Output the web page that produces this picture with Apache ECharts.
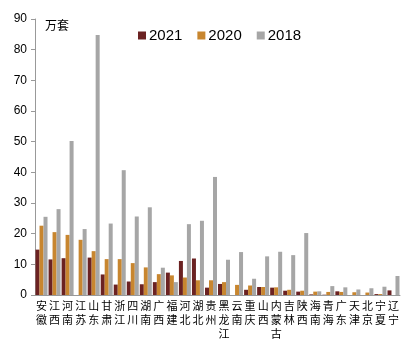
<!DOCTYPE html>
<html><head><meta charset="utf-8">
<script src="https://cdn.jsdelivr.net/npm/echarts@6/dist/echarts.min.js"></script>
<style>html,body{margin:0;padding:0;background:#fff}#c{width:412px;height:341px}</style>
</head><body><div id="c"></div>
<script>
const categories = ['安徽','江西','河南','江苏','山东','甘肃','浙江','四川','湖南','广西','福建','河北','湖北','贵州','黑龙江','云南','重庆','山西','内蒙古','吉林','陕西','海南','青海','广东','天津','北京','宁夏','辽宁'];
const s2021 = [14.8,11.6,12.0,0,12.2,6.7,3.4,4.4,3.5,4.2,7.3,11.1,11.9,2.4,3.6,0,1.7,2.6,2.4,1.4,1.1,0.2,0.1,1.2,0,0,0.3,1.5];
const s2020 = [22.6,20.5,19.6,18.0,14.3,11.7,11.7,10.4,9.0,6.8,6.4,5.7,4.8,4.8,4.2,3.3,3.1,2.6,2.5,1.7,1.4,1.1,1.0,1.0,0.9,0.8,0.3,0];
const s2018 = [25.5,28.0,50.2,21.5,84.8,23.3,40.7,25.6,28.6,8.9,4.2,23.1,24.2,38.5,11.5,14.0,5.3,12.6,14.1,13.0,20.2,1.2,2.9,2.5,1.8,2.2,2.7,6.2];
const yTicks = [0,10,20,30,40,50,60,70,80,90];
const font = 'Liberation Sans, Arial, sans-serif';
const chart = echarts.init(document.getElementById('c'));
chart.setOption({
  animation:false,
  grid:{left:35,right:12,top:19,bottom:45,containLabel:false},
  legend:{top:23,left:133,itemWidth:8,itemHeight:8,itemGap:15,icon:'rect',
    textStyle:{fontSize:15,color:'#000',fontFamily:font,padding:[0,0,0,-2]},
    data:['2021','2020','2018']},
  graphic:[{type:'text',left:45,top:19,style:{text:'万套',fontSize:12,fill:'#000',fontFamily:'Noto Sans CJK SC'}}],
  xAxis:{type:'category',data:categories,
    axisLine:{lineStyle:{color:'#999'}},axisTick:{show:false},
    axisLabel:{interval:0,fontSize:11,color:'#000',lineHeight:14,margin:4,fontFamily:'Noto Sans CJK SC',
      formatter:v=>v.split('').join('\n')}},
  yAxis:{type:'value',min:0,max:90,interval:10,
    axisLine:{show:true,lineStyle:{color:'#999'}},
    axisTick:{show:true,inside:false,length:4,lineStyle:{color:'#999'}},
    splitLine:{show:false},
    axisLabel:{fontSize:12,color:'#000',margin:8,fontFamily:font,
      formatter:v=>yTicks.includes(v)?String(v):''}},
  series:[
    {name:'2021',type:'bar',data:s2021,barGap:'0%',barCategoryGap:'8%',itemStyle:{color:'#6B2222'}},
    {name:'2020',type:'bar',data:s2020,barGap:'0%',barCategoryGap:'8%',itemStyle:{color:'#C8862F'}},
    {name:'2018',type:'bar',data:s2018,barGap:'0%',barCategoryGap:'8%',itemStyle:{color:'#A6A6A6'}}
  ]
});
</script></body></html>
